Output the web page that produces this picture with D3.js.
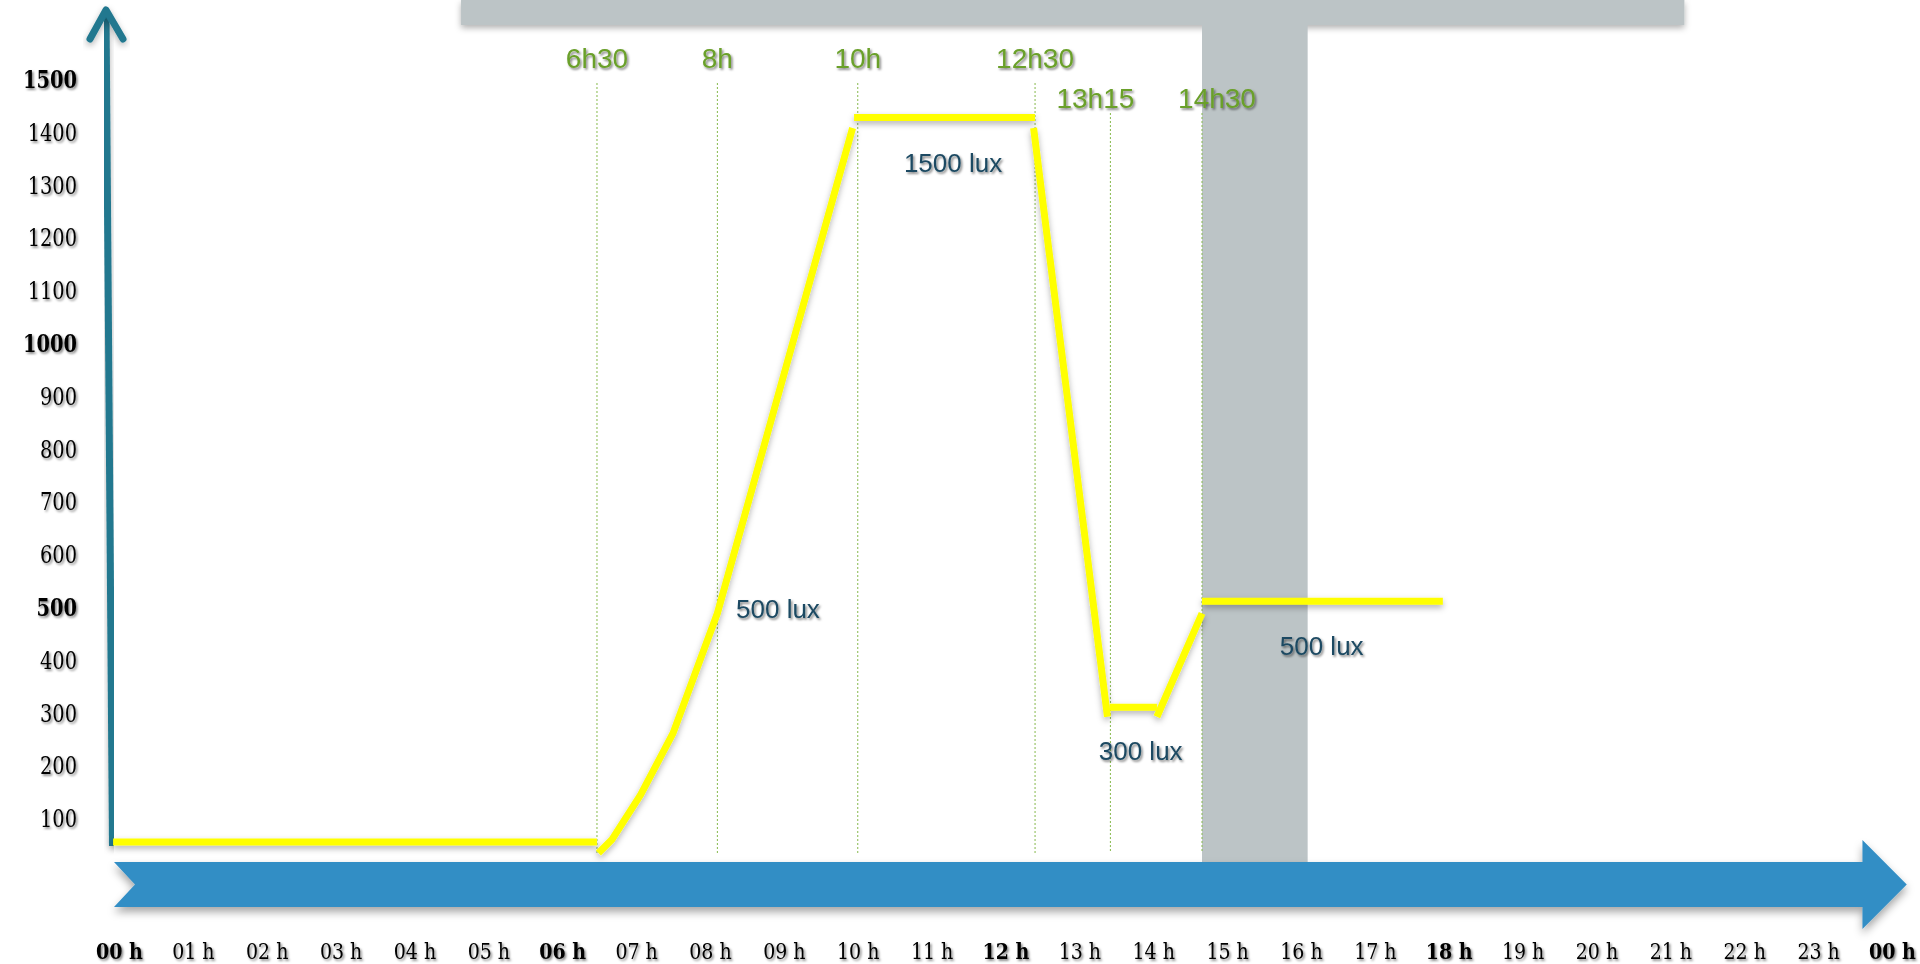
<!DOCTYPE html>
<html>
<head>
<meta charset="utf-8">
<script src="https://cdn.jsdelivr.net/npm/d3@7"></script>
<style>
  html, body { margin: 0; padding: 0; background: #fff; overflow: hidden; }
  svg { display: block; }
</style>
</head>
<body>
<div id="chart"></div>
<script>
// hour ticks along the bottom arrow
const hours = d3.range(0, 25);
const hourLabels = hours.map(h => String(h % 24).padStart(2, "0") + " h");
const boldHours = [0, 6, 12, 18, 24];

// lux ticks on the left
const luxTicks = d3.range(100, 1600, 100);
const boldLux = [500, 1000, 1500];

// light level, drawn as separate pieces [hour, lux]
const nightLevel = [[-0.08, 57], [6.47, 57]];
const morningRamp = [[6.49, 36], [6.67, 61], [7.06, 146], [7.5, 263], [8.1, 490], [9.93, 1409]];
const peakLevel = [[9.95, 1429], [12.4, 1429]];
const fallRamp = [[12.38, 1409], [13.38, 294]];
const lowLevel = [[13.41, 312], [14.05, 312]];
const riseRamp = [[14.05, 294], [14.66, 490]];
const afternoonLevel = [[14.66, 513], [17.92, 513]];

// time markers
const markerLabels = ["6h30", "8h", "10h", "12h30", "13h15", "14h30"];
const markerHours = [6.47, 8.1, 10, 12.4, 13.42, 14.66];

// lux notes (anchor in hour / lux)
const luxNotes = ["1500 lux", "500 lux", "300 lux", "500 lux"];
const luxNoteHours = [11.29, 8.92, 13.83, 16.28];
const luxNoteValues = [1343, 498, 229, 428];

// grey shaded period and top banner
const shadeHours = [14.66, 16.09];
const bannerHours = [4.63, 21.19];

const width = 1920, height = 964;

const x = d3.scaleLinear().domain([0, 24]).range([119, 1892]);
const y = d3.scaleLinear().domain([0, 1500]).range([872, 80]);

const svg = d3.create("svg")
  .attr("width", width)
  .attr("height", height);

// filters for the soft shadows
const defs = svg.append("defs");
function shadow(id, dx, dy, sd, op) {
  defs.append("filter")
    .attr("id", id)
    .attr("x", "-20%").attr("y", "-20%")
    .attr("width", "140%").attr("height", "160%")
    .append("feDropShadow")
    .attr("dx", dx).attr("dy", dy)
    .attr("stdDeviation", sd)
    .attr("flood-color", "#000")
    .attr("flood-opacity", op);
}
shadow("txt", 1.5, 1.8, 0.9, 0.5);
shadow("soft", 0, 3, 3, 0.3);
shadow("band", 0, 5, 4, 0.35);

// grey banner on top and grey period
svg.append("rect")
  .attr("x", x(bannerHours[0]))
  .attr("y", 0)
  .attr("width", x(bannerHours[1]) - x(bannerHours[0]))
  .attr("height", 25)
  .attr("fill", "#bcc4c6")
  .attr("filter", "url(#soft)");

svg.append("rect")
  .attr("x", x(shadeHours[0]))
  .attr("y", 25)
  .attr("width", x(shadeHours[1]) - x(shadeHours[0]))
  .attr("height", 862 - 25)
  .attr("fill", "#bcc4c6");

// dotted marker lines
const markerRow = (d, i) => i < 4 ? 0 : 1;
svg.append("g")
  .selectAll("line")
  .data(markerHours)
  .join("line")
  .attr("x1", d => x(d))
  .attr("x2", d => x(d))
  .attr("y1", (d, i) => markerRow(d, i) ? 113 : 83)
  .attr("y2", 853)
  .attr("stroke", "#86b94c")
  .attr("stroke-width", 1)
  .attr("stroke-dasharray", "2,2");

// blue time arrow
const bx0 = x(0) - 5, bx1 = x(23.6), bx2 = x(24.2);
const bTop = 862, bBot = 907, bMid = (bTop + bBot) / 2;
svg.append("path")
  .attr("d", `M${bx0},${bTop} L${bx1},${bTop} L${bx1},840 L${bx2},${bMid} L${bx1},929 L${bx1},${bBot} L${bx0},${bBot} L${bx0 + 21},${bMid} Z`)
  .attr("fill", "#338ec5")
  .attr("filter", "url(#band)");

// vertical lux arrow
svg.append("path")
  .attr("d", `M${x(0) - 6.5},846 L${x(0) - 13},12`)
  .attr("fill", "none")
  .attr("stroke", "#22788f")
  .attr("stroke-width", 7)
  .attr("filter", "url(#soft)");
svg.append("path")
  .attr("d", `M${x(0) - 29},39 L${x(0) - 13},10 L${x(0) + 4},39`)
  .attr("fill", "none")
  .attr("stroke", "#22788f")
  .attr("stroke-width", 7)
  .attr("stroke-linecap", "round")
  .attr("stroke-linejoin", "round")
  .attr("filter", "url(#soft)");

// light level line
const line = d3.line().x(d => x(d[0])).y(d => y(d[1]));
const pieces = [nightLevel, morningRamp, peakLevel, fallRamp, lowLevel, riseRamp, afternoonLevel];
svg.append("g")
  .attr("filter", "url(#soft)")
  .selectAll("path")
  .data(pieces)
  .join("path")
  .attr("d", line)
  .attr("fill", "none")
  .attr("stroke", "#ffff00")
  .attr("stroke-width", 7)
  .attr("stroke-linejoin", "round");

// marker labels
svg.append("g")
  .attr("filter", "url(#txt)")
  .selectAll("text")
  .data(markerLabels)
  .join("text")
  .attr("x", (d, i) => x(markerHours[i]) + (i === 4 ? -15 : i === 5 ? 15 : 0))
  .attr("y", (d, i) => markerRow(d, i) ? 98 : 58)
  .attr("dy", "0.36em")
  .attr("text-anchor", "middle")
  .attr("font-family", "'Liberation Sans', Arial, sans-serif")
  .attr("font-size", 28)
  .attr("fill", "#6aa02a")
  .text(d => d);

// lux notes
svg.append("g")
  .attr("filter", "url(#txt)")
  .selectAll("text")
  .data(luxNotes)
  .join("text")
  .attr("x", (d, i) => x(luxNoteHours[i]))
  .attr("y", (d, i) => y(luxNoteValues[i]))
  .attr("dy", "0.36em")
  .attr("text-anchor", "middle")
  .attr("font-family", "'Liberation Sans', Arial, sans-serif")
  .attr("font-size", 26)
  .attr("fill", "#1d4a62")
  .text(d => d);

// left axis labels
const yAxis = svg.append("g")
  .attr("transform", "translate(77,0)")
  .attr("filter", "url(#txt)")
  .call(d3.axisLeft(y).tickValues(luxTicks).tickSize(0).tickPadding(0).tickFormat(d3.format("d")));
yAxis.select(".domain").remove();
yAxis.selectAll("text")
  .attr("font-family", "'DejaVu Serif', serif")
  .attr("font-size", 20)
  .attr("transform", "scale(0.97,1.18)")
  .attr("fill", "#000")
  .attr("font-weight", d => boldLux.includes(d) ? "bold" : "normal");

// bottom hour labels
const xAxis = svg.append("g")
  .attr("transform", "translate(0,943)")
  .attr("filter", "url(#txt)")
  .call(d3.axisBottom(x).tickValues(hours).tickSize(0).tickPadding(0).tickFormat((d, i) => hourLabels[i]));
xAxis.select(".domain").remove();
xAxis.selectAll("text")
  .attr("font-family", "'DejaVu Serif', serif")
  .attr("font-size", 20)
  .attr("transform", "scale(0.95,1.12)")
  .attr("fill", "#000")
  .attr("font-weight", d => boldHours.includes(d) ? "bold" : "normal");

d3.select("#chart").node().appendChild(svg.node());
</script>
</body>
</html>
